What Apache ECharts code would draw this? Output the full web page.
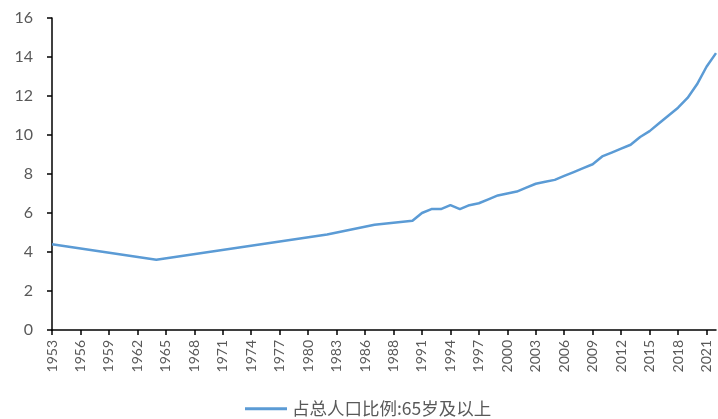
<!DOCTYPE html>
<html>
<head>
<meta charset="utf-8">
<script src="https://cdn.jsdelivr.net/npm/echarts@6/dist/echarts.min.js"></script>
<style>
  html, body { margin: 0; padding: 0; background: #fff; }
  #chart { width: 718px; height: 419px; }
</style>
</head>
<body>
<div id="chart"></div>
<script>
// x 轴类目（每 3 个显示一个标签）
const years = [
  '1953', '1954', '1955', '1956', '1957', '1958', '1959', '1960', '1961', '1962',
  '1963', '1964', '1965', '1966', '1967', '1968', '1969', '1970', '1971', '1972',
  '1973', '1974', '1975', '1976', '1977', '1978', '1979', '1980', '1981', '1982',
  '1983', '1984', '1985', '1986', '1987', '1987', '1988', '1989', '1990', '1991',
  '1992', '1993', '1994', '1995', '1996', '1997', '1998', '1999', '2000', '2001',
  '2002', '2003', '2004', '2005', '2006', '2007', '2008', '2009', '2010', '2011',
  '2012', '2013', '2014', '2015', '2016', '2017', '2018', '2019', '2020', '2021',
  '2022'
];

// 占总人口比例:65岁及以上 (%)，空值处连线
const ratio65 = [
  4.4, null, null, null, null, null, null, null, null, null,
  null, 3.6, null, null, null, null, null, null, null, null,
  null, null, null, null, null, null, null, null, null, 4.9,
  null, null, null, null, 5.4, null, null, null, 5.6, 6.0,
  6.2, 6.2, 6.4, 6.2, 6.4, 6.5, 6.7, 6.9, 7.0, 7.1,
  7.3, 7.5, 7.6, 7.7, 7.9, 8.1, 8.3, 8.5, 8.9, 9.1,
  9.3, 9.5, 9.9, 10.2, 10.6, 11.0, 11.4, 11.9, 12.6, 13.5,
  14.2
];

const seriesName = '占总人口比例:65岁及以上';

const chart = echarts.init(document.getElementById('chart'));
chart.setOption({
  animation: false,
  grid: {
    left: 52,
    right: 2,
    top: 18,
    bottom: 89,
    containLabel: false
  },
  legend: {
    data: [seriesName],
    left: 240,
    top: 395,
    icon: 'rect',
    itemWidth: 42,
    itemHeight: 3,
    itemGap: 6,
    textStyle: {
      color: '#595959',
      fontSize: 17.5,
      fontFamily: '"Noto Sans CJK SC", sans-serif'
    }
  },
  xAxis: {
    type: 'category',
    data: years,
    boundaryGap: false,
    axisLine: { lineStyle: { color: '#000', width: 1.5 } },
    axisTick: {
      interval: 2,
      length: 5,
      lineStyle: { color: '#000', width: 1.5 }
    },
    axisLabel: {
      interval: 2,
      rotate: 90,
      margin: 10,
      color: '#595959',
      fontSize: 14,
      fontFamily: 'Lato, "Open Sans", sans-serif'
    },
    splitLine: { show: false }
  },
  yAxis: {
    type: 'value',
    min: 0,
    max: 16,
    interval: 2,
    axisLine: { show: true, lineStyle: { color: '#000', width: 1.5 } },
    axisTick: {
      show: true,
      length: 5,
      lineStyle: { color: '#000', width: 1.5 }
    },
    axisLabel: {
      margin: 19,
      color: '#595959',
      fontSize: 16,
      fontFamily: 'Lato, "Open Sans", sans-serif'
    },
    splitLine: { show: false }
  },
  series: [{
    name: seriesName,
    type: 'line',
    data: ratio65,
    connectNulls: true,
    symbol: 'none',
    lineStyle: { color: '#5B9BD5', width: 2.5 },
    itemStyle: { color: '#5B9BD5' }
  }]
});
</script>
</body>
</html>
